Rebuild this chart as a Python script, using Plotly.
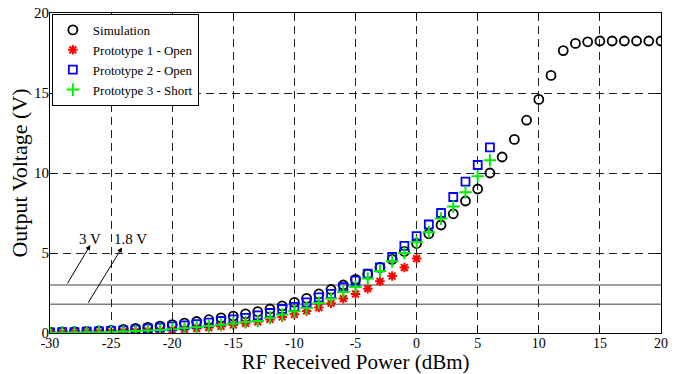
import plotly.graph_objects as go

power = list(range(-30, 21))
sim = [0.06, 0.07, 0.08, 0.10, 0.13, 0.17, 0.22, 0.28, 0.35, 0.43,
       0.52, 0.62, 0.72, 0.83, 0.95, 1.06, 1.20, 1.33, 1.50, 1.69,
       1.92, 2.17, 2.44, 2.72, 3.00, 3.35, 3.68, 4.10, 4.60, 5.10,
       5.60, 6.20, 6.75, 7.45, 8.25, 9.00, 10.00, 11.00, 12.10, 13.30,
       14.60, 16.10, 17.65, 18.10, 18.20, 18.25, 18.25, 18.25, 18.25, 18.25, 18.25]

power_p1 = list(range(-30, 1))
proto1 = [0.01, 0.01, 0.02, 0.03, 0.04, 0.05, 0.07, 0.09, 0.12, 0.15,
          0.19, 0.23, 0.28, 0.34, 0.41, 0.50, 0.60, 0.70, 0.85, 1.00,
          1.17, 1.38, 1.59, 1.86, 2.15, 2.44, 2.77, 3.23, 3.56, 4.09, 4.65]

power_p23 = list(range(-30, 7))
proto2 = [0.04, 0.05, 0.06, 0.08, 0.10, 0.13, 0.17, 0.22, 0.28, 0.34,
          0.41, 0.48, 0.56, 0.65, 0.75, 0.85, 0.94, 1.10, 1.25, 1.50,
          1.63, 1.92, 2.23, 2.44, 2.86, 3.27, 3.71, 4.10, 4.75, 5.44,
          6.06, 6.78, 7.50, 8.50, 9.46, 10.50, 11.60]
proto3 = [0.02, 0.02, 0.03, 0.04, 0.05, 0.07, 0.09, 0.12, 0.15, 0.19,
          0.24, 0.30, 0.36, 0.43, 0.52, 0.60, 0.69, 0.75, 0.96, 1.15,
          1.36, 1.56, 1.88, 2.15, 2.56, 2.88, 3.40, 3.88, 4.48, 5.00,
          5.67, 6.30, 7.15, 7.90, 8.80, 9.80, 10.80]

x_tickvals = [-30, -25, -20, -15, -10, -5, 0, 5, 10, 15, 20]
x_ticktext = ["-30", "-25", "-20", "-15", "-10", "-5", "0", "5", "10", "15", "20"]
y_tickvals = [0, 5, 10, 15, 20]
y_ticktext = ["0", "5", "10", "15", "20"]

thresholds = [3.0, 1.8]
threshold_labels = ["3 V", "1.8 V"]

FONT = "Liberation Serif, Times New Roman, serif"

fig = go.Figure()
fig.add_trace(go.Scatter(x=power, y=sim, mode="markers", name="Simulation",
                         marker=dict(symbol="circle-open", size=9, color="black",
                                     line=dict(width=1.8, color="black"))))
fig.add_trace(go.Scatter(x=power_p1, y=proto1, mode="markers", name="Prototype 1 - Open",
                         marker=dict(symbol="asterisk-open", size=8, color="red",
                                     line=dict(width=2, color="red"))))
fig.add_trace(go.Scatter(x=power_p23, y=proto2, mode="markers", name="Prototype 2 - Open",
                         marker=dict(symbol="square-open", size=8, color="blue",
                                     line=dict(width=1.8, color="blue"))))
fig.add_trace(go.Scatter(x=power_p23, y=proto3, mode="markers", name="Prototype 3 - Short",
                         marker=dict(symbol="cross-thin-open", size=9, color="#00ee00",
                                     line=dict(width=2, color="#00ee00"))))

for t in thresholds:
    fig.add_shape(type="line", xref="x", yref="y", x0=-30, x1=20, y0=t, y1=t,
                  line=dict(color="#7f7f7f", width=1.5), layer="below")

# arrows from threshold lines to labels
arrow_tails = [(-28.65, thresholds[0]), (-26.95, thresholds[1])]
arrow_heads = [(-26.7, 5.5), (-24.1, 5.35)]
label_pos = [(-26.7, 5.85), (-23.45, 5.85)]
for (tx, ty), (hx, hy), (lx, ly), lab in zip(arrow_tails, arrow_heads, label_pos, threshold_labels):
    fig.add_annotation(x=hx, y=hy, ax=tx, ay=ty, xref="x", yref="y", axref="x", ayref="y",
                       text="", showarrow=True, arrowhead=2, arrowsize=1, arrowwidth=1,
                       arrowcolor="black", standoff=0, startstandoff=0)
    fig.add_annotation(x=lx, y=ly, xref="x", yref="y", text=lab, showarrow=False,
                       font=dict(family=FONT, size=15, color="black"))

axis_common = dict(showline=True, linecolor="black", linewidth=1, mirror="ticks",
                   ticks="inside", ticklen=5, tickcolor="black", automargin=False,
                   showgrid=True, gridcolor="#222222", gridwidth=1, griddash="8px,5px",
                   zeroline=False)

fig.update_xaxes(range=[-30, 20], tickvals=x_tickvals, ticktext=x_ticktext,
                 ticklabelstandoff=-3,
                 tickfont=dict(family=FONT, size=14, color="black"),
                 title=dict(text="RF Received Power (dBm)", standoff=0,
                            font=dict(family=FONT, size=21, color="black")),
                 **axis_common)
fig.update_yaxes(range=[0, 20], tickvals=y_tickvals, ticktext=y_ticktext,
                 ticklabelstandoff=-3,
                 tickfont=dict(family=FONT, size=15, color="black"),
                 title=dict(text="Output Voltage (V)", standoff=0,
                            font=dict(family=FONT, size=22, color="black")),
                 **axis_common)

fig.update_layout(
    width=685, height=374,
    margin=dict(l=50, r=24, t=13, b=41),
    paper_bgcolor="white", plot_bgcolor="white",
    font=dict(family=FONT, color="black"),
    showlegend=True,
    legend=dict(x=0.003, y=0.997, xanchor="left", yanchor="top",
                bgcolor="white", bordercolor="black", borderwidth=1,
                font=dict(family=FONT, size=13, color="black"),
                itemwidth=30, tracegroupgap=0),
)

fig.write_html("out.html")
